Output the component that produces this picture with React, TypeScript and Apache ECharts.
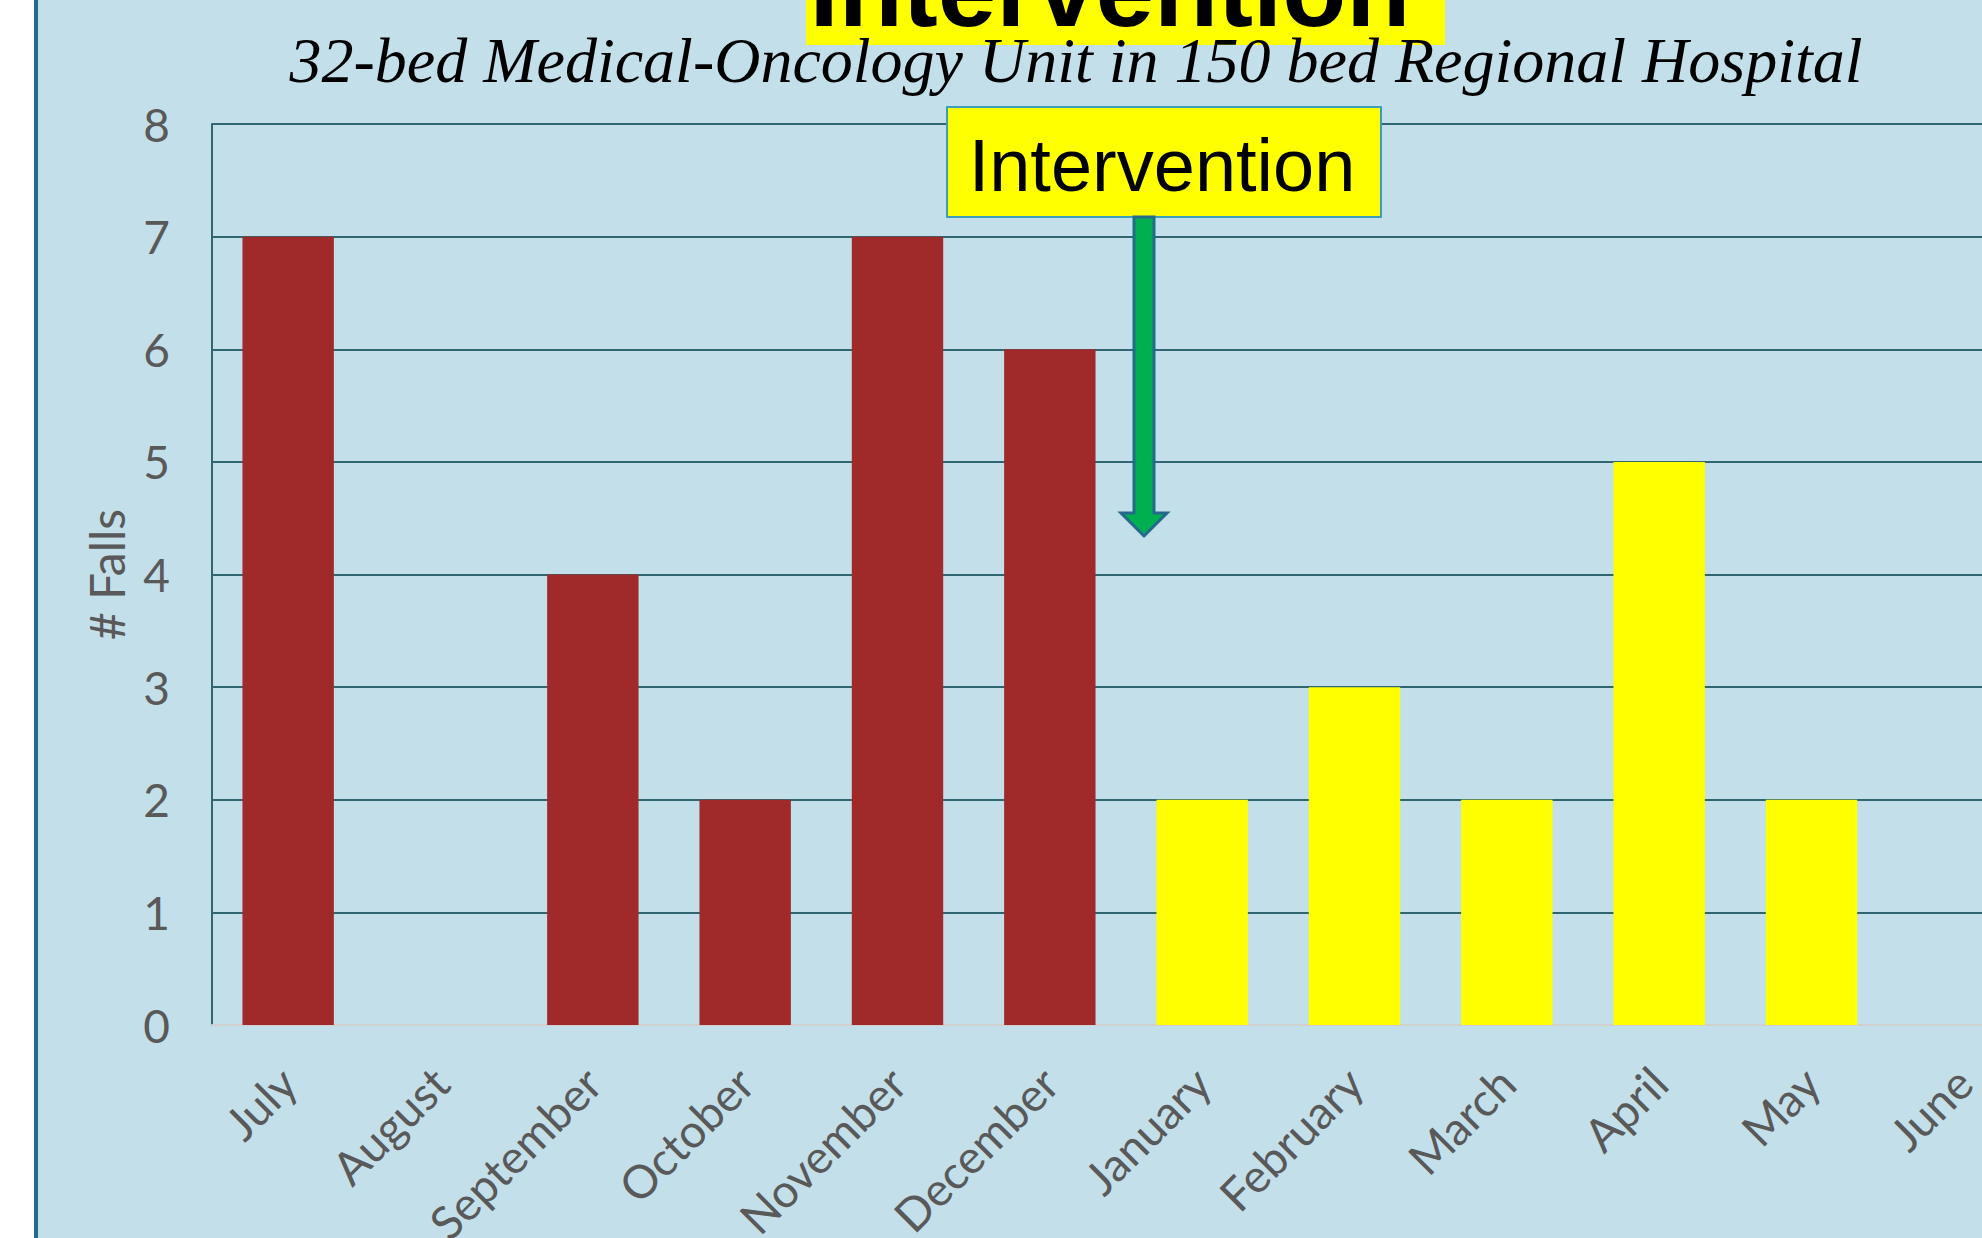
import React, { useEffect, useRef } from "react";
import * as echarts from "echarts";

const months = [
  "July", "August", "September", "October", "November", "December",
  "January", "February", "March", "April", "May", "June",
];
const falls = [7, 0, 4, 2, 7, 6, 2, 3, 2, 5, 2, 0];
const interventionIndex = 6; // first month after the intervention
const yMin = 0;
const yMax = 8;
const yInterval = 1;
const headline = "Intervention";
const subtitle = "32-bed Medical-Oncology Unit in 150 bed Regional Hospital";
const calloutLabel = "Intervention";
const yAxisName = "# Falls";

const BG = "#c3dfe9";
const GRID = "#2f6670";
const LABEL = "#595959";
const PRE = "#a0292a";
const POST = "#ffff00";

export default function App() {
  const ref = useRef<HTMLDivElement>(null);
  useEffect(() => {
    if (!ref.current) return;
    const chart = echarts.init(ref.current, undefined, { renderer: "svg" });
    const arrowPts = [
      [1134, 217], [1154, 217], [1154, 513], [1167, 513],
      [1144, 536], [1121, 513], [1134, 513],
    ];
    chart.setOption({
      animation: false,
      backgroundColor: BG,
      grid: {
        left: 212, top: 124, width: 1828, height: 901,
        containLabel: false, outerBoundsMode: "none",
      },
      xAxis: {
        type: "category",
        data: months,
        axisLine: { show: true, lineStyle: { color: "#d0d0d0", width: 2 } },
        axisTick: { show: false },
        axisLabel: {
          interval: 0,
          rotate: 45,
          margin: 50,
          fontFamily: "Lato",
          fontSize: 46,
          color: LABEL,
        },
      },
      yAxis: {
        type: "value",
        min: yMin,
        max: yMax,
        interval: yInterval,
        name: yAxisName,
        nameLocation: "middle",
        nameRotate: 90,
        nameGap: 82,
        nameTextStyle: { fontFamily: "Lato", fontSize: 48, color: LABEL },
        axisLine: { show: true, lineStyle: { color: GRID, width: 2 } },
        axisTick: { show: false },
        splitLine: { show: true, lineStyle: { color: GRID, width: 2 } },
        axisLabel: { fontFamily: "Lato", fontSize: 46, color: LABEL, margin: 42 },
      },
      series: [
        {
          type: "bar",
          data: falls,
          barCategoryGap: "40%",
          itemStyle: {
            color: (p: any) => (p.dataIndex < interventionIndex ? PRE : POST),
          },
        },
      ],
      graphic: [
        { type: "rect", z: 100, shape: { x: 0, y: 0, width: 34, height: 1238 }, style: { fill: "#ffffff" } },
        { type: "rect", z: 100, shape: { x: 34, y: 0, width: 4, height: 1238 }, style: { fill: "#246a8c" } },
        { type: "rect", z: 100, shape: { x: 806, y: -10, width: 639, height: 55 }, style: { fill: "#ffff00" } },
        {
          type: "text", z: 101, x: 1110, y: -11,
          style: {
            text: headline, fontFamily: "Liberation Sans", fontWeight: "bold", fontSize: 105,
            fill: "#000000", align: "center", verticalAlign: "middle",
          },
        },
        {
          type: "text", z: 101, x: 1076, y: 60,
          style: {
            text: subtitle, fontFamily: "Liberation Serif", fontStyle: "italic", fontSize: 64,
            fill: "#000000", align: "center", verticalAlign: "middle",
          },
        },
        {
          type: "rect", z: 100, shape: { x: 947, y: 107, width: 434, height: 110 },
          style: { fill: "#ffff00", stroke: "#3c9dbd", lineWidth: 2 },
        },
        {
          type: "text", z: 101, x: 1162, y: 165,
          style: {
            text: calloutLabel, fontFamily: "Liberation Sans", fontSize: 74,
            fill: "#000000", align: "center", verticalAlign: "middle",
          },
        },
        {
          type: "polygon", z: 100, shape: { points: arrowPts },
          style: { fill: "#00b050", stroke: "#236a8c", lineWidth: 3 },
        },
      ],
    });
    return () => chart.dispose();
  }, []);
  return (
    <div
      ref={ref}
      style={{ position: "fixed", left: 0, top: 0, width: 1982, height: 1238, overflow: "hidden" }}
    />
  );
}
